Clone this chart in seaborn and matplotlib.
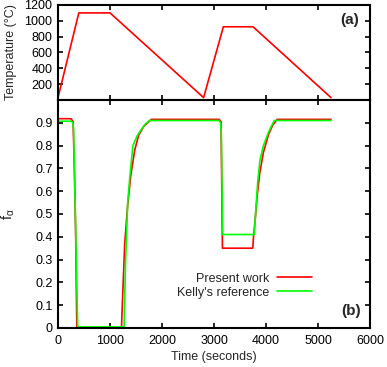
"""
Temperature cycle (a) and alpha fraction f_alpha (b) versus time,
present work compared against Kelly's reference.
"""
import numpy as np
import pandas as pd
import matplotlib
matplotlib.use('Agg')
import matplotlib.pyplot as plt
import seaborn as sns

# (a) heat treatment schedule
temp_time = [0, 400, 1000, 2800, 3180, 3750, 5250]
temp_vals = [30, 1100, 1100, 30, 925, 925, 30]

# (b) present work
present_time = [0, 250, 290, 320, 340, 362, 1220, 1250, 1283, 1340, 1400, 1475,
                1550, 1650, 1795, 3100, 3135, 3150, 3162, 3745, 3760, 3790,
                3830, 3880, 3950, 4050, 4130, 4215, 5250]
present_fa = [0.918, 0.918, 0.905, 0.65, 0.4, 0.0, 0.0, 0.18, 0.37, 0.54, 0.67, 0.78,
              0.845, 0.885, 0.915, 0.915, 0.905, 0.6, 0.35, 0.35, 0.40, 0.47,
              0.58, 0.68, 0.77, 0.85, 0.89, 0.915, 0.915]

# (b) Kelly's reference
kelly_time = [0, 260, 285, 300, 378, 1270, 1300, 1340, 1380, 1440, 1527, 1600,
              1680, 1760, 3100, 3125, 3140, 3167, 3774, 3790, 3805, 3840, 3883,
              3950, 4050, 4157, 5250]
kelly_fa = [0.907, 0.907, 0.9, 0.87, 0.005, 0.005, 0.3, 0.55, 0.66, 0.8, 0.845, 0.87,
            0.895, 0.91, 0.91, 0.9, 0.86, 0.41, 0.41, 0.47, 0.52, 0.64, 0.735,
            0.8, 0.86, 0.91, 0.91]

sns.set_style('ticks')
plt.rcParams['font.family'] = ['Liberation Sans', 'DejaVu Sans']
plt.rcParams['mathtext.default'] = 'regular'
plt.rcParams['font.size'] = 9


def style_axes(ax):
    for sp in ax.spines.values():
        sp.set_linewidth(1.5)
        sp.set_color('black')
    ax.tick_params(direction='in', length=3.5, width=1.2, top=True, right=True,
                   colors='black', labelsize=9)
    ax.tick_params(axis='x', pad=5)
    ax.tick_params(axis='y', pad=4)


def main():
    fig = plt.figure(figsize=(3.87, 3.67), dpi=100)
    ax_t = fig.add_axes([0.1499, 0.7275, 0.8062, 0.2589])
    ax_f = fig.add_axes([0.1499, 0.1063, 0.8062, 0.6212])

    temp_df = pd.DataFrame({'time': temp_time, 'temp': temp_vals})
    sns.lineplot(data=temp_df, x='time', y='temp', color='#ff0000', lw=1.2,
                 estimator=None, sort=False, ax=ax_t)
    ax_t.set_xlim(0, 6000)
    ax_t.set_ylim(0, 1200)
    ax_t.set_xticks(range(0, 7000, 1000))
    ax_t.set_xticklabels([])
    ax_t.set_yticks(range(200, 1400, 200))
    ax_t.set_xlabel('')
    ax_t.set_ylabel('Temperature (°C)', fontsize=9)
    ax_t.yaxis.set_label_coords(-0.13, 0.5)
    style_axes(ax_t)
    ax_t.text(0.935, 0.84, '(a)', transform=ax_t.transAxes, ha='center', va='center',
              fontsize=11, fontweight='bold')

    pres_df = pd.DataFrame({'time': present_time, 'fa': present_fa})
    kelly_df = pd.DataFrame({'time': kelly_time, 'fa': kelly_fa})
    sns.lineplot(data=pres_df, x='time', y='fa', color='#ff0000', lw=1.2,
                 estimator=None, sort=False, label='Present work', ax=ax_f)
    sns.lineplot(data=kelly_df, x='time', y='fa', color='#00ff00', lw=1.2,
                 estimator=None, sort=False, label="Kelly's reference", ax=ax_f)
    ax_f.set_xlim(0, 6000)
    ax_f.set_ylim(0, 1.0)
    ax_f.set_xticks(range(0, 7000, 1000))
    ax_f.set_yticks(np.arange(0, 1.0, 0.1))
    ax_f.set_yticklabels(['0'] + [f'{v:.1f}' for v in np.arange(0.1, 1.0, 0.1)])
    ax_f.set_xlabel('Time (seconds)', fontsize=9, labelpad=3)
    ax_f.set_ylabel(r'f$_{α}$', fontsize=10.5)
    ax_f.yaxis.set_label_coords(-0.13, 0.5)
    style_axes(ax_f)
    ax_f.legend(loc='center right', bbox_to_anchor=(0.814, 0.186), frameon=False,
                markerfirst=False, handlelength=2.8, handletextpad=0.6,
                labelspacing=0.15, borderpad=0, borderaxespad=0, fontsize=9)
    ax_f.text(0.94, 0.075, '(b)', transform=ax_f.transAxes, ha='center', va='center',
              fontsize=11, fontweight='bold')

    fig.savefig('out.png', dpi=100)


if __name__ == '__main__':
    main()
